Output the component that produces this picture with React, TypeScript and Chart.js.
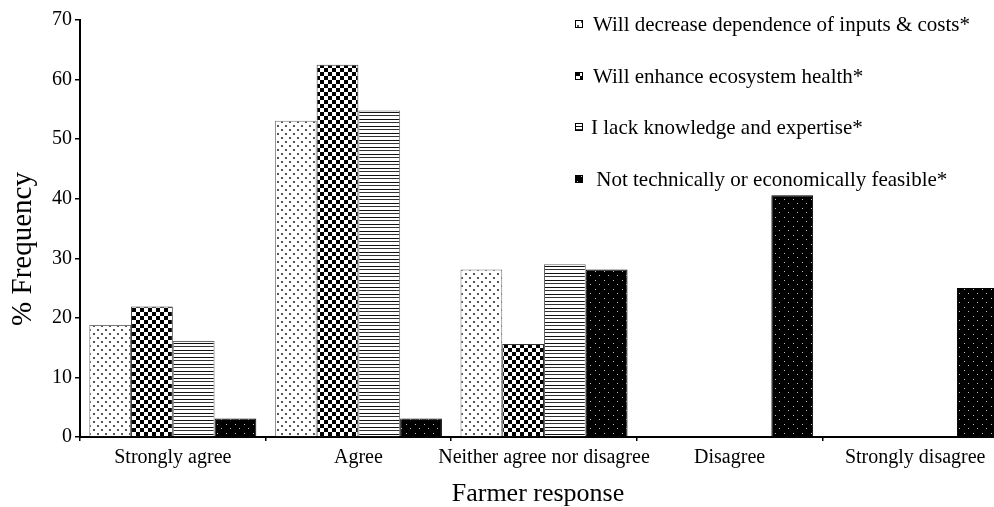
import React, { useEffect, useRef } from "react";
import { Chart, registerables } from "chart.js";

Chart.register(...registerables);

const categories = [
  "Strongly agree",
  "Agree",
  "Neither agree nor disagree",
  "Disagree",
  "Strongly disagree",
];
const seriesNames = [
  "Will decrease dependence of inputs & costs*",
  "Will enhance ecosystem health*",
  "I lack knowledge and expertise*",
  " Not technically or economically feasible*",
];
const decreaseDependence = [18.8, 53.1, 28.1, 0, 0];
const enhanceEcosystem = [21.9, 62.5, 15.6, 0, 0];
const lackKnowledge = [16.1, 54.8, 29.0, 0, 0];
const notFeasible = [3.1, 3.1, 28.1, 40.6, 25.0];
const yTicks = [0, 10, 20, 30, 40, 50, 60, 70];

const SERIF = "'Liberation Serif', 'Times New Roman', serif";

function makePattern(kind: string): CanvasPattern | string {
  const c = document.createElement("canvas");
  const ctx = c.getContext("2d");
  if (!ctx) return "#888";
  if (kind === "dots") {
    c.width = 8; c.height = 8;
    ctx.fillStyle = "#fff"; ctx.fillRect(0, 0, 8, 8);
    ctx.fillStyle = "#555";
    ctx.fillRect(1, 1, 2, 2);
    ctx.fillRect(5, 5, 2, 2);
  } else if (kind === "checker") {
    c.width = 8; c.height = 8;
    ctx.fillStyle = "#fff"; ctx.fillRect(0, 0, 8, 8);
    ctx.fillStyle = "#000";
    ctx.fillRect(0, 0, 4, 4);
    ctx.fillRect(4, 4, 4, 4);
  } else if (kind === "lines") {
    c.width = 4; c.height = 7;
    ctx.fillStyle = "#fff"; ctx.fillRect(0, 0, 4, 7);
    ctx.fillStyle = "#111";
    ctx.fillRect(0, 0, 4, 1);
    ctx.fillStyle = "#333";
    ctx.fillRect(0, 3, 4, 1);
  } else {
    c.width = 9; c.height = 9;
    ctx.fillStyle = "#000"; ctx.fillRect(0, 0, 9, 9);
    ctx.fillStyle = "#c0c0c0";
    ctx.fillRect(1, 1, 1, 1);
    ctx.fillRect(5, 5, 1, 1);
  }
  return ctx.createPattern(c, "repeat") || "#888";
}

export default function App() {
  const ref = useRef<HTMLCanvasElement | null>(null);

  useEffect(() => {
    if (!ref.current) return;
    const fills = [
      makePattern("dots"),
      makePattern("checker"),
      makePattern("lines"),
      makePattern("darkdots"),
    ];
    const borders = ["#777", "#333", "#666", "#000"];
    const values = [decreaseDependence, enhanceEcosystem, lackKnowledge, notFeasible];

    const overlay = {
      id: "overlay",
      afterDraw(chart: any) {
        const ctx = chart.ctx as CanvasRenderingContext2D;
        ctx.save();
        // legend
        const ys = [24, 76, 127, 179];
        const textX = [593, 593, 591, 591];
        ctx.font = `21px ${SERIF}`;
        ctx.textBaseline = "middle";
        ctx.textAlign = "left";
        for (let i = 0; i < seriesNames.length; i++) {
          const y = ys[i];
          ctx.fillStyle = fills[i] as any;
          ctx.fillRect(575, y - 4, 8, 8);
          ctx.strokeStyle = "#000";
          ctx.lineWidth = 1;
          ctx.strokeRect(575.5, y - 3.5, 7, 7);
          ctx.fillStyle = "#000";
          ctx.fillText(seriesNames[i], textX[i], y + 1);
        }
        // axis titles
        ctx.font = `26px ${SERIF}`;
        ctx.textAlign = "center";
        ctx.textBaseline = "middle";
        ctx.fillText("Farmer response", 538, 494);
        ctx.font = `29px ${SERIF}`;
        ctx.translate(23, 249);
        ctx.rotate(-Math.PI / 2);
        ctx.fillText("% Frequency", 0, 0);
        ctx.restore();
      },
    };

    const chart = new Chart(ref.current, {
      type: "bar",
      data: {
        labels: categories,
        datasets: values.map((v, i) => ({
          label: seriesNames[i],
          data: v,
          backgroundColor: fills[i] as any,
          borderColor: borders[i],
          borderWidth: (c: any) => (c.raw === 0 ? 0 : 1),
          borderSkipped: "start" as const,
          categoryPercentage: 0.9,
          barPercentage: 1.0,
        })),
      },
      options: {
        responsive: false,
        animation: false,
        devicePixelRatio: 1,
        layout: { padding: { top: 20, right: 2, left: 0, bottom: 0 } },
        plugins: {
          legend: { display: false },
          tooltip: { enabled: false },
          title: { display: false },
        },
        scales: {
          x: {
            grid: {
              offset: true,
              drawOnChartArea: false,
              drawTicks: true,
              tickLength: 4,
              color: "#000",
              lineWidth: 1.5,
            },
            border: { display: true, color: "#000", width: 2 },
            ticks: {
              font: { family: SERIF, size: 20 },
              color: "#000",
              padding: 5,
              maxRotation: 0,
              autoSkip: false,
            },
            afterFit: (s: any) => {
              s.height = 70;
            },
          },
          y: {
            min: 0,
            max: 70,
            afterBuildTicks: (s: any) => {
              s.ticks = yTicks.map((v) => ({ value: v }));
            },
            grid: {
              drawOnChartArea: false,
              drawTicks: true,
              tickLength: 5,
              color: "#000",
              lineWidth: 1.5,
            },
            border: { display: true, color: "#000", width: 2 },
            ticks: {
              font: { family: SERIF, size: 20 },
              color: "#000",
              padding: 3,
            },
            afterFit: (s: any) => {
              s.width = 80;
            },
          },
        },
      },
      plugins: [overlay],
    });
    return () => chart.destroy();
  }, []);

  return (
    <div
      style={{
        position: "fixed",
        left: 0,
        top: 0,
        width: 994,
        height: 507,
        overflow: "hidden",
        background: "#fff",
      }}
    >
      <canvas ref={ref} width={1010} height={507} style={{ display: "block" }} />
    </div>
  );
}
